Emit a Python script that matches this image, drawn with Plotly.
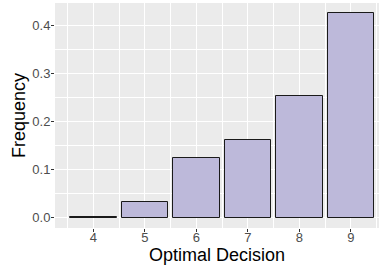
import plotly.graph_objects as go

decisions = [4, 5, 6, 7, 8, 9]
frequency = [0.001, 0.032, 0.125, 0.162, 0.253, 0.426]
x_ticks = [4, 5, 6, 7, 8, 9]
y_ticks = [0.0, 0.1, 0.2, 0.3, 0.4]
y_tick_labels = ["0.0", "0.1", "0.2", "0.3", "0.4"]

fig = go.Figure()
fig.add_trace(go.Bar(
    x=decisions, y=frequency, width=0.9,
    marker=dict(color="#BDB9DA", line=dict(color="#1a1a1a", width=1)),
))

font_family = "Liberation Sans, Arial, sans-serif"
fig.update_layout(
    width=379, height=267,
    margin=dict(l=55, r=0, t=3, b=39, pad=0),
    paper_bgcolor="white",
    plot_bgcolor="#EBEBEB",
    showlegend=False,
    font=dict(family=font_family, color="#4D4D4D", size=13),
    bargap=0,
)
fig.update_xaxes(
    automargin=False,
    range=[3.255, 9.547],
    tickvals=x_ticks, ticktext=[str(v) for v in x_ticks],
    showgrid=True, gridcolor="white", gridwidth=1.3,
    zeroline=False, showline=False,
    ticks="outside", ticklen=3, tickwidth=1, tickcolor="#333333",
    tickfont=dict(size=13, color="#4D4D4D"),
    ticklabelstandoff=-6,
    minor=dict(tick0=3.5, dtick=1, showgrid=True, gridcolor="white", gridwidth=0.6, ticks=""),
    title=dict(text="Optimal Decision", font=dict(size=18, color="black"), standoff=0),
)
fig.update_yaxes(
    automargin=False,
    range=[-0.0213, 0.4473],
    tickvals=y_ticks, ticktext=y_tick_labels,
    showgrid=True, gridcolor="white", gridwidth=1.3,
    zeroline=False, showline=False,
    ticks="outside", ticklen=3, tickwidth=1, tickcolor="#333333",
    tickfont=dict(size=13, color="#4D4D4D"),
    ticklabelstandoff=-2,
    minor=dict(tick0=0.05, dtick=0.1, showgrid=True, gridcolor="white", gridwidth=0.6, ticks=""),
    title=dict(text="Frequency", font=dict(size=18, color="black"), standoff=2),
)

fig.write_html(
    "out.html",
    config={"displayModeBar": False},
    post_script="document.body.style.margin='0';document.body.style.padding='0';document.body.style.overflow='hidden';",
)
